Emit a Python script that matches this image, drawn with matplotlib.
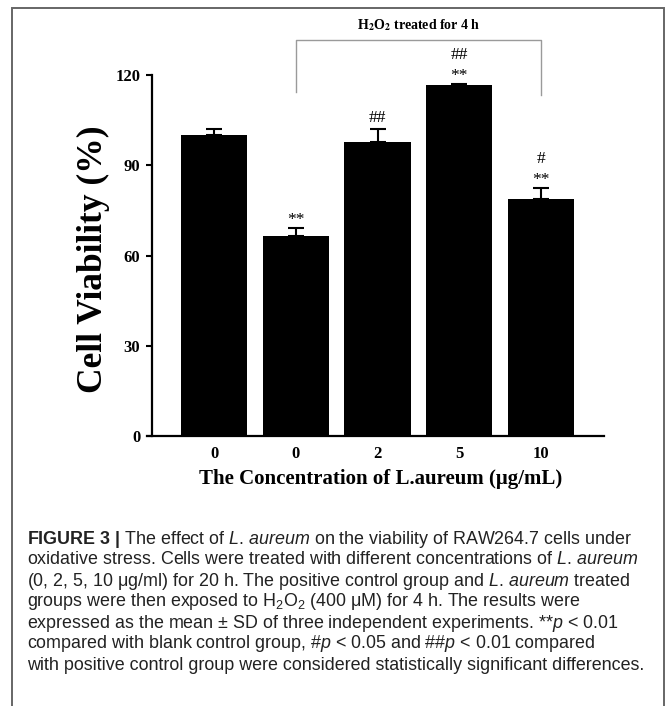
import matplotlib
matplotlib.use("Agg")
import matplotlib.pyplot as plt
from matplotlib.patches import Rectangle

# data
groups = ["0", "0", "2", "5", "10"]
viability = [100.0, 66.4, 97.6, 116.6, 78.9]
sd = [1.9, 2.7, 4.6, 0.4, 3.4]
sig_blank = ["", "**", "", "**", "**"]   # vs blank control
sig_pos = ["", "", "##", "##", "#"]      # vs positive control
yticks = [0, 30, 60, 90, 120]

LA = r"$\mathit{L}$. $\mathit{aureum}$"
caption = [
    r"$\mathbf{FIGURE}$ $\mathbf{3}$ $\mathbf{|}$ The effect of " + LA + " on the viability of RAW264.7 cells under",
    "oxidative stress. Cells were treated with different concentrations of " + LA,
    "(0, 2, 5, 10 μg/ml) for 20 h. The positive control group and " + LA + " treated",
    r"groups were then exposed to H$_\mathrm{2}$O$_\mathrm{2}$ (400 μM) for 4 h. The results were",
    r"expressed as the mean ± SD of three independent experiments. **$\mathit{p}$ < 0.01",
    r"compared with blank control group, #$\mathit{p}$ < 0.05 and ##$\mathit{p}$ < 0.01 compared",
    "with positive control group were considered statistically significant differences.",
]

plt.rcParams["mathtext.fontset"] = "custom"
plt.rcParams["mathtext.rm"] = "Liberation Sans"
plt.rcParams["mathtext.it"] = "Liberation Sans:italic"
plt.rcParams["mathtext.bf"] = "Liberation Sans:bold"

serif = "Liberation Serif"
W, H = 668, 706
fig = plt.figure(figsize=(W / 100, H / 100), dpi=100)
ax = fig.add_axes([147 / W, 1 - 436 / H, (604 - 147) / W, (436 - 75) / H])

x = list(range(len(groups)))
ax.bar(x, viability, width=0.81, color="black", zorder=2)
ax.errorbar(x, viability, yerr=[[0] * len(sd), sd], fmt="none", ecolor="black",
            elinewidth=1.5, capsize=6, capthick=1.5, zorder=3)

ax.set_xlim(-0.82, 4.77)
ax.set_ylim(0, 120)
for s in ["top", "right"]:
    ax.spines[s].set_visible(False)
ax.spines["left"].set_position(("data", -0.758))
ax.spines["left"].set_linewidth(1.6)
ax.spines["bottom"].set_linewidth(1.6)

ax.set_yticks(yticks)
ax.set_xticks(x)
ax.set_xticklabels(groups)
ax.tick_params(axis="y", length=4.5, width=1.5, pad=4)
ax.tick_params(axis="x", length=0, pad=7)
for lab in ax.get_xticklabels() + ax.get_yticklabels():
    lab.set_fontfamily(serif)
    lab.set_fontweight("bold")
    lab.set_fontsize(12)

ax.set_ylabel("Cell Viability (%)", fontfamily=serif, fontweight="bold", fontsize=25.5)
ax.yaxis.set_label_coords(-0.082, 0.49)
ax.set_xlabel("The Concentration of L.aureum (μg/mL)", fontfamily=serif,
              fontweight="bold", fontsize=15)
ax.xaxis.set_label_coords(0.512, -0.092)

# significance marks above the error bars
for i in x:
    top = viability[i] + sd[i]
    row = 0
    if sig_blank[i]:
        ax.annotate(sig_blank[i], (i, top), xytext=(0, 3), textcoords="offset points",
                    ha="center", va="baseline", fontfamily=serif, fontsize=12.5,
                    annotation_clip=False)
        row = 1
    if sig_pos[i]:
        ax.annotate(sig_pos[i], (i, top), xytext=(0, 5 + row * 13), textcoords="offset points",
                    ha="center", va="baseline", fontfamily=serif, fontsize=12.5,
                    annotation_clip=False)

# H2O2 bracket over groups 1..4
ax.plot([1, 1, 4, 4], [114.3, 131.5, 131.5, 113.3], color="#9a9a9a", lw=1.0,
        clip_on=False, zorder=1)
ax.text(2.5, 134, r"H$_\mathbf{2}$O$_\mathbf{2}$ treated for 4 h", ha="center", va="bottom",
        fontfamily=serif, fontweight="bold", fontsize=10, math_fontfamily="stix")

# caption
for k, line in enumerate(caption):
    fig.text(27 / W, 1 - (539 + 21 * k) / H, line, ha="left", va="center",
             fontfamily="Liberation Sans", fontsize=12.9, color="#222222")

# outer frame
fig.patches.append(Rectangle((12 / W, -0.05), (664 - 12) / W, 1 - 8 / H + 0.05,
                             transform=fig.transFigure, fill=False,
                             edgecolor="#666666", lw=1.4))

fig.savefig("out.png", dpi=100)
